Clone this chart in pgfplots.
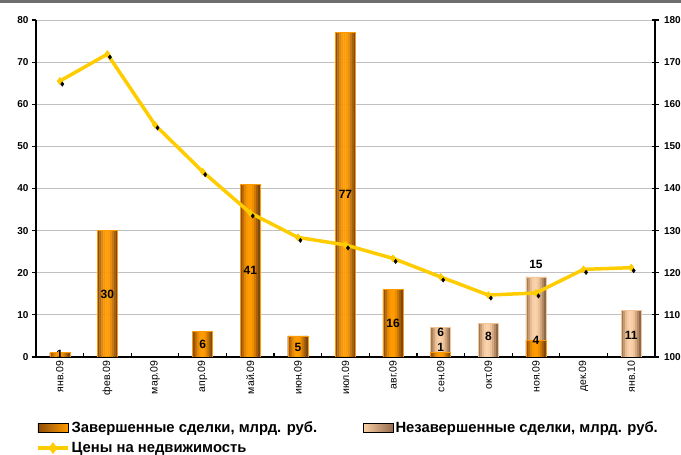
\documentclass[border=0pt]{standalone}
\usepackage{fontspec}
\setmainfont{Liberation Sans}
\usepackage{pgfplots}
\pgfplotsset{compat=1.18}
\usepackage{pgfplotstable}

\definecolor{gridgray}{HTML}{C0C0C0}
\definecolor{orangemid}{HTML}{FF9A00}
\definecolor{orangeedge}{HTML}{8E4E0A}
\definecolor{orangeline}{HTML}{FF9900}
\definecolor{tanmid}{HTML}{F8D0A6}
\definecolor{tanright}{HTML}{94694A}
\definecolor{tanline}{HTML}{F2C49A}
\definecolor{lineyellow}{HTML}{FFCC00}
\definecolor{framegray}{HTML}{6E6E6E}

% colour steps across a bar, left to right
\definecolor{done0}{HTML}{8A4F12}
\definecolor{done1}{HTML}{B86A0C}
\definecolor{done2}{HTML}{E08806}
\definecolor{done3}{HTML}{F89500}
\definecolor{done4}{HTML}{FF9C00}
\definecolor{done5}{HTML}{FF9A00}
\definecolor{done6}{HTML}{F08F00}
\definecolor{done7}{HTML}{D07A04}
\definecolor{done8}{HTML}{A8600A}
\definecolor{done9}{HTML}{7E4810}
\definecolor{open0}{HTML}{A07A58}
\definecolor{open1}{HTML}{C89A74}
\definecolor{open2}{HTML}{E8BC92}
\definecolor{open3}{HTML}{F6CDA4}
\definecolor{open4}{HTML}{FAD4AE}
\definecolor{open5}{HTML}{F8D0A8}
\definecolor{open6}{HTML}{EDC298}
\definecolor{open7}{HTML}{D5A880}
\definecolor{open8}{HTML}{B58A66}
\definecolor{open9}{HTML}{8E6A4C}

% deals: completed (c) and uncompleted (u), bn rub.
\pgfplotstableread{
x c  u
0 1  0
1 30 0
2 0  0
3 6  0
4 41 0
5 5  0
6 77 0
7 16 0
8 1  6
9 0  8
10 4 15
11 0 0
12 0 11
}\deals

% real estate price index
\pgfplotstableread{
x  p
0  165.5
1  171.9
2  155.1
3  144.0
4  134.2
5  128.4
6  126.6
7  123.4
8  119.0
9  114.7
10 115.2
11 120.8
12 121.2
}\prices

\tikzset{barlabel/.style={font=\bfseries\fontsize{12}{14}\selectfont, inner sep=0pt}}

\pgfplotsset{
  common/.style={
    at={(36pt,98pt)}, anchor=south west,
    scale only axis, width=619pt, height=337pt,
    xmin=-0.5, xmax=12.5,
    axis line style={line width=1.6pt,-},
    tick style={black, line width=1.2pt},
    /pgf/number format/assume math mode=true,
    yticklabel style={font=\bfseries\fontsize{10}{12}\selectfont},
  },
  strip/.style={ybar, bar width=2.3pt, bar shift={(#1-4.5)*2pt}, draw=none,
    forget plot, restrict y to domain=0.001:200},
  rim/.style={ybar, bar width=20pt, bar shift=0pt, fill=none, line width=0.6pt,
    forget plot, restrict y to domain=0.001:200},
}

\begin{document}
\begin{tikzpicture}
\useasboundingbox (0,0) rectangle (681pt,455pt);
\fill[framegray] (0,452pt) rectangle (681pt,455pt);

\begin{axis}[common,
  ymin=0, ymax=80, ytick={0,10,...,80},
  axis x line*=bottom, axis y line*=left,
  ymajorgrids, grid style={gridgray, line width=0.8pt},
  ytick align=outside, major tick length=4pt,
  xtick={0,...,12}, major x tick style={draw=none},
  xticklabels={янв.09,фев.09,мар.09,апр.09,май.09,июн.09,июл.09,авг.09,сен.09,окт.09,ноя.09,дек.09,янв.10},
  xticklabel style={rotate=90, anchor=east, font=\fontsize{10.5}{12}\selectfont},
  minor xtick={-0.5,0.5,...,12.5}, minor tick length=4pt,
  minor x tick style={black, line width=1.2pt},
  unbounded coords=discard,
  legend columns=2,
  legend cell align=left,
  legend style={at={(axis description cs:0,-0.186)}, anchor=north west,
    draw=none, fill=none, inner sep=0pt,
    font=\bfseries\fontsize{14.8}{16}\selectfont,
    /tikz/every even column/.append style={column sep=44pt},
    row sep=4pt},
]
% stacked totals (completed + uncompleted), drawn as vertical colour strips
\pgfplotsinvokeforeach{0,...,9}{
  \addplot[strip=#1, fill=open#1]
    table[x=x, y expr={(\thisrow{u}>0)*(\thisrow{c}+\thisrow{u})}] {\deals};
}
\addplot[rim, draw=tanline]
  table[x=x, y expr={(\thisrow{u}>0)*(\thisrow{c}+\thisrow{u})}] {\deals};
% completed part on top
\pgfplotsinvokeforeach{0,...,9}{
  \addplot[strip=#1, fill=done#1] table[x=x, y=c] {\deals};
}
\addplot[rim, draw=orangeline] table[x=x, y=c] {\deals};

\addlegendimage{legend image code/.code={
  \shade[left color=orangeedge, right color=orangemid] (0pt,-4.5pt) rectangle (30pt,4.5pt);}}
\addlegendentry{Завершенные сделки, млрд. руб.}
\addlegendimage{legend image code/.code={
  \shade[left color=tanmid, middle color=tanmid, right color=tanright] (0pt,-4.5pt) rectangle (30pt,4.5pt);}}
\addlegendentry{Незавершенные сделки, млрд. руб.}
\addlegendimage{lineyellow, line width=3.5pt, mark=diamond*, mark size=3pt,
  legend image code/.code={
  \draw[mark repeat=2,mark phase=2] plot coordinates {(0pt,0pt) (15pt,0pt) (30pt,0pt)};}}
\addlegendentry{Цены на недвижимость}

\node[barlabel] at (axis cs:0,0.7)  {1};
\node[barlabel] at (axis cs:1,14.9) {30};
\node[barlabel] at (axis cs:3,2.9)  {6};
\node[barlabel] at (axis cs:4,20.5) {41};
\node[barlabel] at (axis cs:5,2.2)  {5};
\node[barlabel] at (axis cs:6,38.5) {77};
\node[barlabel] at (axis cs:7,8.0)  {16};
\node[barlabel] at (axis cs:8,5.8)  {6};
\node[barlabel] at (axis cs:8,2.3)  {1};
\node[barlabel] at (axis cs:9,5.0)  {8};
\node[barlabel] at (axis cs:10,3.9) {4};
\node[barlabel] at (axis cs:10,22.0) {15};
\node[barlabel] at (axis cs:12,5.2) {11};
\end{axis}

\begin{axis}[common,
  ymin=100, ymax=180, ytick={100,110,...,180},
  axis x line=none, axis y line*=right,
  ytick align=center, major tick length=7pt,
  yticklabel style={xshift=2pt},
]
\addplot[lineyellow, line width=3.5pt, mark=diamond*, mark size=3.6pt,
  mark options={fill=lineyellow, draw=lineyellow, line width=0.5pt}]
  table[x=x, y=p] {\prices};
% small dark shadow markers
\addplot[only marks, mark=diamond*, mark size=2.2pt, black,
  xshift=2.5pt, yshift=-3pt]
  table[x=x, y=p] {\prices};
\end{axis}
\end{tikzpicture}
\end{document}
